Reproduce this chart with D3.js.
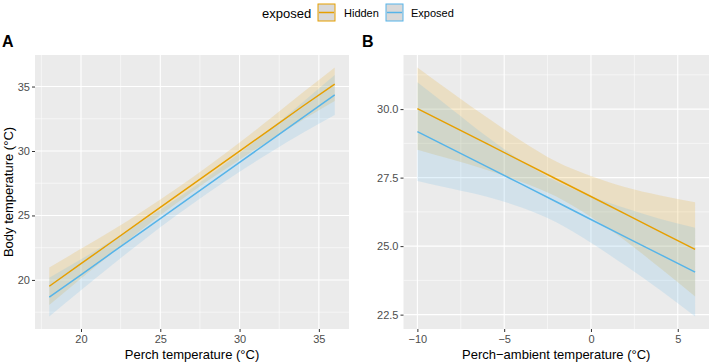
<!DOCTYPE html>
<html>
<head>
<meta charset="utf-8">
<script src="https://cdn.jsdelivr.net/npm/d3@7"></script>
<style>
  body { margin: 0; background: #fff; }
  text { font-family: "Liberation Sans", Arial, sans-serif; }
</style>
</head>
<body>
<div id="chart"></div>
<script>
// groups
var groups = ["Hidden", "Exposed"];
var groupColors = ["#E69F00", "#56B4E9"];

// panel A : body temperature vs perch temperature
var perchX = [18, 20, 22, 24, 26, 28, 30, 32, 34, 36];
var hiddenFitA = [19.51, 21.26, 23.00, 24.75, 26.50, 28.25, 29.99, 31.74, 33.49, 35.18];
var hiddenLowA = [18.05, 20.11, 22.12, 24.07, 25.93, 27.69, 29.33, 30.90, 32.43, 33.88];
var hiddenHighA = [20.97, 22.41, 23.88, 25.43, 27.07, 28.81, 30.65, 32.58, 34.55, 36.48];
var exposedFitA = [18.66, 20.40, 22.15, 23.89, 25.63, 27.38, 29.12, 30.86, 32.61, 34.35];
var exposedLowA = [17.16, 19.20, 21.20, 23.14, 24.99, 26.75, 28.40, 29.94, 31.41, 32.80];
var exposedHighA = [20.16, 21.60, 23.10, 24.64, 26.27, 28.01, 29.84, 31.78, 33.81, 35.90];

// panel B : body temperature vs perch-ambient difference
var diffX = [-10, -8, -6, -4, -2, 0, 2, 4, 6];
var hiddenFitB = [30.02, 29.38, 28.74, 28.09, 27.45, 26.81, 26.17, 25.52, 24.88];
var hiddenLowB = [28.52, 28.16, 27.78, 27.34, 26.81, 26.06, 25.19, 24.19, 23.16];
var hiddenHighB = [31.52, 30.60, 29.70, 28.84, 28.09, 27.56, 27.15, 26.85, 26.60];
var exposedFitB = [29.18, 28.54, 27.90, 27.26, 26.62, 25.97, 25.33, 24.69, 24.05];
var exposedLowB = [27.38, 27.09, 26.80, 26.41, 25.87, 25.12, 24.28, 23.39, 22.43];
var exposedHighB = [30.98, 29.99, 29.00, 28.11, 27.37, 26.82, 26.38, 25.99, 25.67];

// tick labels
var ticksAx = [20, 25, 30, 35];
var ticksAy = [20, 25, 30, 35];
var ticksBx = [-10, -5, 0, 5];
var ticksBy = [22.5, 25, 27.5, 30];

var W = 711, H = 363;
var svg = d3.select("#chart").append("svg")
  .attr("width", W).attr("height", H);

function series(xs, fit, lo, hi) {
  return xs.map(function(x, i) { return {x: x, y: fit[i], lo: lo[i], hi: hi[i]}; });
}

// expand like ggplot (5% each side)
function expand(ext) {
  var pad = (ext[1] - ext[0]) * 0.05;
  return [ext[0] - pad, ext[1] + pad];
}

function panel(opt) {
  var g = svg.append("g");
  var x = d3.scaleLinear().domain(expand(d3.extent(opt.xs))).range([opt.left, opt.right]);
  var allY = [].concat(opt.data[0].map(d => d.lo), opt.data[0].map(d => d.hi),
                       opt.data[1].map(d => d.lo), opt.data[1].map(d => d.hi));
  var y = d3.scaleLinear().domain(expand(d3.extent(allY))).range([opt.bottom, opt.top]);

  g.append("rect")
    .attr("x", opt.left).attr("y", opt.top)
    .attr("width", opt.right - opt.left).attr("height", opt.bottom - opt.top)
    .attr("fill", "#EBEBEB");

  // minor grid at midpoints of majors
  var xMinor = [], yMinor = [];
  var dx = opt.xTicks[1] - opt.xTicks[0], dy = opt.yTicks[1] - opt.yTicks[0];
  for (var i = -1; i < opt.xTicks.length; i++) xMinor.push(opt.xTicks[0] + dx * (i + 0.5));
  for (var j = -1; j < opt.yTicks.length; j++) yMinor.push(opt.yTicks[0] + dy * (j + 0.5));
  xMinor = xMinor.filter(v => v > x.domain()[0] && v < x.domain()[1]);
  yMinor = yMinor.filter(v => v > y.domain()[0] && v < y.domain()[1]);

  g.selectAll(".xmin").data(xMinor).enter().append("line")
    .attr("x1", d => x(d)).attr("x2", d => x(d))
    .attr("y1", opt.top).attr("y2", opt.bottom)
    .attr("stroke", "#fff").attr("stroke-width", 0.55);
  g.selectAll(".ymin").data(yMinor).enter().append("line")
    .attr("y1", d => y(d)).attr("y2", d => y(d))
    .attr("x1", opt.left).attr("x2", opt.right)
    .attr("stroke", "#fff").attr("stroke-width", 0.55);
  g.selectAll(".xmaj").data(opt.xTicks).enter().append("line")
    .attr("x1", d => x(d)).attr("x2", d => x(d))
    .attr("y1", opt.top).attr("y2", opt.bottom)
    .attr("stroke", "#fff").attr("stroke-width", 1.1);
  g.selectAll(".ymaj").data(opt.yTicks).enter().append("line")
    .attr("y1", d => y(d)).attr("y2", d => y(d))
    .attr("x1", opt.left).attr("x2", opt.right)
    .attr("stroke", "#fff").attr("stroke-width", 1.1);

  // ribbons then lines
  var area = d3.area().curve(d3.curveMonotoneX)
    .x(d => x(d.x)).y0(d => y(d.lo)).y1(d => y(d.hi));
  var line = d3.line().x(d => x(d.x)).y(d => y(d.y));
  opt.data.forEach(function(s, k) {
    g.append("path").attr("d", area(s))
      .attr("fill", groupColors[k]).attr("fill-opacity", 0.17);
  });
  opt.data.forEach(function(s, k) {
    g.append("path").attr("d", line(s))
      .attr("fill", "none").attr("stroke", groupColors[k]).attr("stroke-width", 1.5);
  });

  // axes
  var fmtX = opt.xFmt, fmtY = opt.yFmt;
  var xa = g.append("g").attr("transform", "translate(0," + opt.bottom + ")")
    .call(d3.axisBottom(x).tickValues(opt.xTicks).tickSize(3).tickPadding(3).tickFormat(fmtX));
  var ya = g.append("g").attr("transform", "translate(" + opt.left + ",0)")
    .call(d3.axisLeft(y).tickValues(opt.yTicks).tickSize(3).tickPadding(2).tickFormat(fmtY));
  [xa, ya].forEach(function(a) {
    a.select(".domain").remove();
    a.selectAll(".tick line").attr("stroke", "#333333").attr("stroke-width", 1);
    a.selectAll(".tick text").attr("fill", "#4D4D4D")
      .style("font-size", "11px").style("font-family", "'Liberation Sans', Arial, sans-serif");
  });

  g.append("text")
    .attr("x", (opt.left + opt.right) / 2).attr("y", 359)
    .attr("text-anchor", "middle").style("font-size", "13px")
    .text(opt.xTitle);
  if (opt.yTitle) {
    g.append("text")
      .attr("transform", "translate(13," + (opt.top + opt.bottom) / 2 + ") rotate(-90)")
      .attr("text-anchor", "middle").style("font-size", "13px")
      .text(opt.yTitle);
  }
  g.append("text")
    .attr("x", opt.tagX).attr("y", 47)
    .style("font-size", "16px").style("font-weight", "bold")
    .text(opt.tag);
}

var minus = function(v) { return String(v).replace("-", "\u2212"); };

panel({
  left: 35, right: 349, top: 55, bottom: 329,
  xs: perchX,
  data: [series(perchX, hiddenFitA, hiddenLowA, hiddenHighA),
         series(perchX, exposedFitA, exposedLowA, exposedHighA)],
  xTicks: ticksAx, yTicks: ticksAy,
  xFmt: d3.format("d"), yFmt: d3.format("d"),
  xTitle: "Perch temperature (\u00B0C)",
  yTitle: "Body temperature (\u00B0C)",
  tag: "A", tagX: 2
});

panel({
  left: 403.5, right: 709, top: 55, bottom: 329,
  xs: diffX,
  data: [series(diffX, hiddenFitB, hiddenLowB, hiddenHighB),
         series(diffX, exposedFitB, exposedLowB, exposedHighB)],
  xTicks: ticksBx, yTicks: ticksBy,
  xFmt: minus, yFmt: d3.format(".1f"),
  xTitle: "Perch\u2212ambient temperature (\u00B0C)",
  yTitle: null,
  tag: "B", tagX: 362
});

// legend
var leg = svg.append("g");
leg.append("text").attr("x", 262).attr("y", 18)
  .style("font-size", "13px").text("exposed");
var keyX = [318, 386], labX = [344, 411];
groups.forEach(function(name, k) {
  leg.append("rect").attr("x", keyX[k]).attr("y", 4).attr("width", 17).attr("height", 17)
    .attr("fill", "#D9D9D9").attr("stroke", groupColors[k]).attr("stroke-width", 1);
  leg.append("line").attr("x1", keyX[k] + 1).attr("x2", keyX[k] + 16)
    .attr("y1", 12.5).attr("y2", 12.5)
    .attr("stroke", groupColors[k]).attr("stroke-width", 1.5);
  leg.append("text").attr("x", labX[k]).attr("y", 16.5)
    .style("font-size", "11px").text(name);
});
</script>
</body>
</html>
